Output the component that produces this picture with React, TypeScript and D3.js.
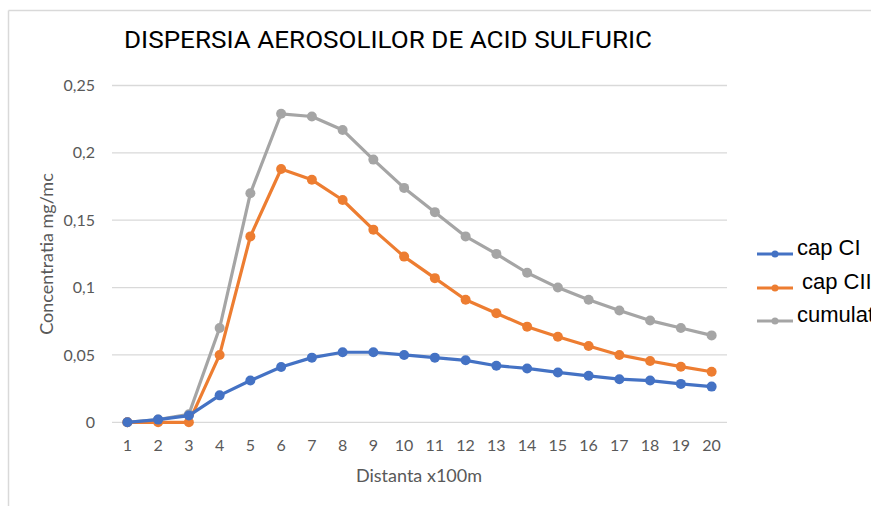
import React from "react";
import * as d3 from "d3";

const categories = ["1","2","3","4","5","6","7","8","9","10","11","12","13","14","15","16","17","18","19","20"];
const capCI = [0, 0.002, 0.005, 0.02, 0.031, 0.041, 0.048, 0.052, 0.052, 0.05, 0.048, 0.046, 0.042, 0.04, 0.037, 0.0345, 0.032, 0.031, 0.0285, 0.0265];
const capCII = [0, 0, 0, 0.05, 0.138, 0.188, 0.18, 0.165, 0.143, 0.123, 0.107, 0.091, 0.081, 0.071, 0.0635, 0.0567, 0.05, 0.0455, 0.0413, 0.0375];
const cumulat = [0, 0.002, 0.006, 0.07, 0.17, 0.229, 0.227, 0.217, 0.195, 0.174, 0.156, 0.138, 0.125, 0.111, 0.1, 0.091, 0.083, 0.0755, 0.07, 0.0645];
const yTicks = [0, 0.05, 0.1, 0.15, 0.2, 0.25];
const yTickLabels = ["0", "0,05", "0,1", "0,15", "0,2", "0,25"];
const seriesNames = ["cap CI", "cap CII", "cumulat"];
const seriesColors = ["#4472C4", "#ED7D31", "#A5A5A5"];

export default function App() {
  const W = 871, H = 506;
  const x = d3.scaleBand<string>().domain(categories).range([112, 727]);
  const y = d3.scaleLinear().domain([0, 0.25]).range([422.3, 85.5]);
  const cx = (c: string) => (x(c) as number) + x.bandwidth() / 2;
  const seriesData = [capCI, capCII, cumulat];
  const line = d3.line<number>().x((_, i) => cx(categories[i])).y((d) => y(d));
  const tickFont = "Lato, 'Open Sans', sans-serif";
  const legendY = [254, 288, 321];
  const legendTextX = [797, 802, 797];
  const order = [2, 1, 0];
  return (
    <svg width={W} height={H} style={{ position: "absolute", left: 0, top: 0, background: "#fff" }}>
      <rect x={0} y={0} width={W} height={H} fill="#fff" />
      <line x1={8.5} x2={871} y1={10.5} y2={10.5} stroke="#d9d9d9" strokeWidth={1.5} />
      <line x1={8.5} x2={8.5} y1={10.5} y2={506} stroke="#d9d9d9" strokeWidth={1.5} />
      <text x={124} y={48} fontFamily="Roboto, 'Liberation Sans', sans-serif" fontSize={24} fill="#000"
        textLength={528} lengthAdjust="spacingAndGlyphs">DISPERSIA AEROSOLILOR DE ACID SULFURIC</text>
      {yTicks.map((t, i) => (
        <g key={t}>
          <line x1={112} x2={727} y1={y(t)} y2={y(t)} stroke="#d9d9d9" strokeWidth={1.3} />
          <text x={95} y={y(t)} dy="0.35em" textAnchor="end" fontFamily={tickFont} fontSize={16} fill="#595959">{yTickLabels[i]}</text>
        </g>
      ))}
      {categories.map((c) => (
        <text key={c} x={cx(c)} y={451} textAnchor="middle" fontFamily={tickFont} fontSize={16} fill="#595959">{c}</text>
      ))}
      <text x={419} y={482} textAnchor="middle" fontFamily={tickFont} fontSize={18} fill="#595959">Distanta x100m</text>
      <text transform={`translate(53,254) rotate(-90)`} textAnchor="middle" fontFamily={tickFont} fontSize={18} fill="#595959">Concentratia mg/mc</text>
      {order.map((s) => (
        <g key={s}>
          <path d={line(seriesData[s]) as string} fill="none" stroke={seriesColors[s]} strokeWidth={3.2} strokeLinejoin="round" />
          {seriesData[s].map((v, i) => (
            <circle key={i} cx={cx(categories[i])} cy={y(v)} r={5} fill={seriesColors[s]} />
          ))}
        </g>
      ))}
      {seriesNames.map((n, i) => (
        <g key={n}>
          <line x1={757} x2={793} y1={legendY[i]} y2={legendY[i]} stroke={seriesColors[i]} strokeWidth={3} />
          <circle cx={775} cy={legendY[i]} r={3.5} fill={seriesColors[i]} />
          <text x={legendTextX[i]} y={legendY[i] + 1} fontFamily="'Liberation Sans', Arial, sans-serif" fontSize={22} fill="#000">{n}</text>
        </g>
      ))}
    </svg>
  );
}
